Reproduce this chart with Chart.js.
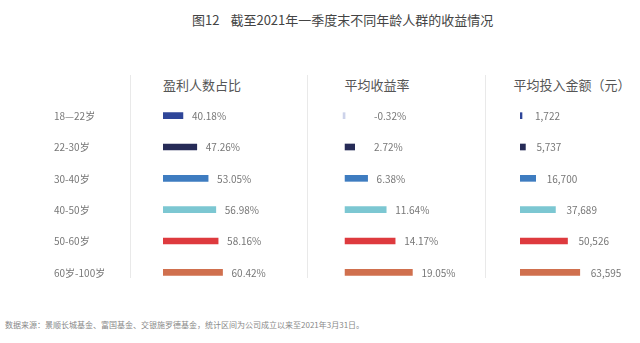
<!DOCTYPE html>
<html>
<head>
<meta charset="utf-8">
<script src="https://cdn.jsdelivr.net/npm/chart.js@4/dist/chart.umd.min.js"></script>
<style>
    body { margin: 0; width: 640px; height: 343px; background: #fff; position: relative; overflow: hidden;
           font-family: "Noto Sans CJK SC", "Noto Sans", sans-serif; }
    .txt { position: absolute; white-space: nowrap; line-height: 1; }
    .title { left: 192px; top: 13px; font-size: 13px; color: #444; }
    .head { top: 78px; font-size: 13px; color: #555; transform: translateX(-50%); }
    .sep { position: absolute; top: 75px; width: 1px; height: 203px; background: #e9e9e9; }
    .note { left: 5px; top: 321px; font-size: 8px; color: #888; }
    canvas { position: absolute; top: 100px; }
</style>
</head>
<body>
<div class="txt title">图12<span style="margin-left:11px"></span>截至2021年一季度末不同年龄人群的收益情况</div>
<div class="sep" style="left:130px"></div>
<div class="sep" style="left:307px"></div>
<div class="sep" style="left:485px"></div>
<div class="txt head" id="h0" style="left:202px"></div>
<div class="txt head" id="h1" style="left:377px"></div>
<div class="txt head" id="h2" style="left:572px"></div>
<canvas id="c0" width="246" height="188" style="left:54px"></canvas>
<canvas id="c1" width="156" height="188" style="left:338px"></canvas>
<canvas id="c2" width="154" height="188" style="left:520px"></canvas>
<div class="txt note">数据来源：景顺长城基金、富国基金、交银施罗德基金，统计区间为公司成立以来至2021年3月31日。</div>

<script>
// ===== Data =====
const ageGroups = ['18—22岁', '22-30岁', '30-40岁', '40-50岁', '50-60岁', '60岁-100岁'];
const panelTitles = ['盈利人数占比', '平均收益率', '平均投入金额（元）'];
const profitShare = [40.18, 47.26, 53.05, 56.98, 58.16, 60.42];
const avgReturn = [-0.32, 2.72, 6.38, 11.64, 14.17, 19.05];
const avgInvest = [1722, 5737, 16700, 37689, 50526, 63595];

// ===== Styles =====
const barColors = ['#2f4699', '#262b57', '#3e7cc0', '#7cc7d2', '#de3a3e', '#d0704e'];
const labelFont = '10px "Noto Sans CJK SC", "Noto Sans", sans-serif';
const labelColor = '#777';

panelTitles.forEach((t, i) => { document.getElementById('h' + i).textContent = t; });

// Draw value text right of each bar (and category names on the first panel)
function valueLabels(values, format, gap, minOffset, showCats) {
    return {
        id: 'valueLabels',
        afterDatasetsDraw(chart) {
            const ctx = chart.ctx;
            const meta = chart.getDatasetMeta(0);
            ctx.save();
            ctx.font = labelFont;
            ctx.fillStyle = labelColor;
            ctx.textBaseline = 'middle';
            ctx.textAlign = 'left';
            meta.data.forEach((bar, i) => {
                const end = Math.max(bar.x, bar.base + minOffset);
                ctx.fillText(format(values[i]), end + gap, bar.y + 0.5);
                if (showCats) {
                    ctx.fillText(chart.data.labels[i], 0, bar.y + 0.5);
                }
            });
            ctx.restore();
        }
    };
}

function makePanel(id, values, colors, xMin, xMax, padLeft, padRight, labelPlugin) {
    const ctx = document.getElementById(id).getContext('2d');
    return new Chart(ctx, {
        type: 'bar',
        data: {
            labels: ageGroups,
            datasets: [{
                data: values,
                backgroundColor: colors,
                borderWidth: 0,
                barThickness: 6,
                minBarLength: 2
            }]
        },
        options: {
            indexAxis: 'y',
            responsive: false,
            animation: false,
            layout: { autoPadding: false, padding: { left: padLeft, right: padRight, top: 0, bottom: 0 } },
            plugins: {
                legend: { display: false },
                tooltip: { enabled: false }
            },
            scales: {
                x: { display: false, min: xMin, max: xMax },
                y: { display: false }
            }
        },
        plugins: [labelPlugin]
    });
}

const pct = v => v.toFixed(2) + '%';
const num = v => v.toLocaleString('en-US');

// negative return shown in a faded tone
const returnColors = barColors.map((c, i) => avgReturn[i] < 0 ? '#cdd3ea' : c);

makePanel('c0', profitShare, barColors, 30, 100, 109, 0, valueLabels(profitShare, pct, 9, 0, true));
makePanel('c1', avgReturn, returnColors, -2, 28, 0, 50, valueLabels(avgReturn, pct, 9, 20, false));
makePanel('c2', avgInvest, barColors, 0, 100000, 0, 60, valueLabels(avgInvest, num, 11, 4, false));
</script>
</body>
</html>
